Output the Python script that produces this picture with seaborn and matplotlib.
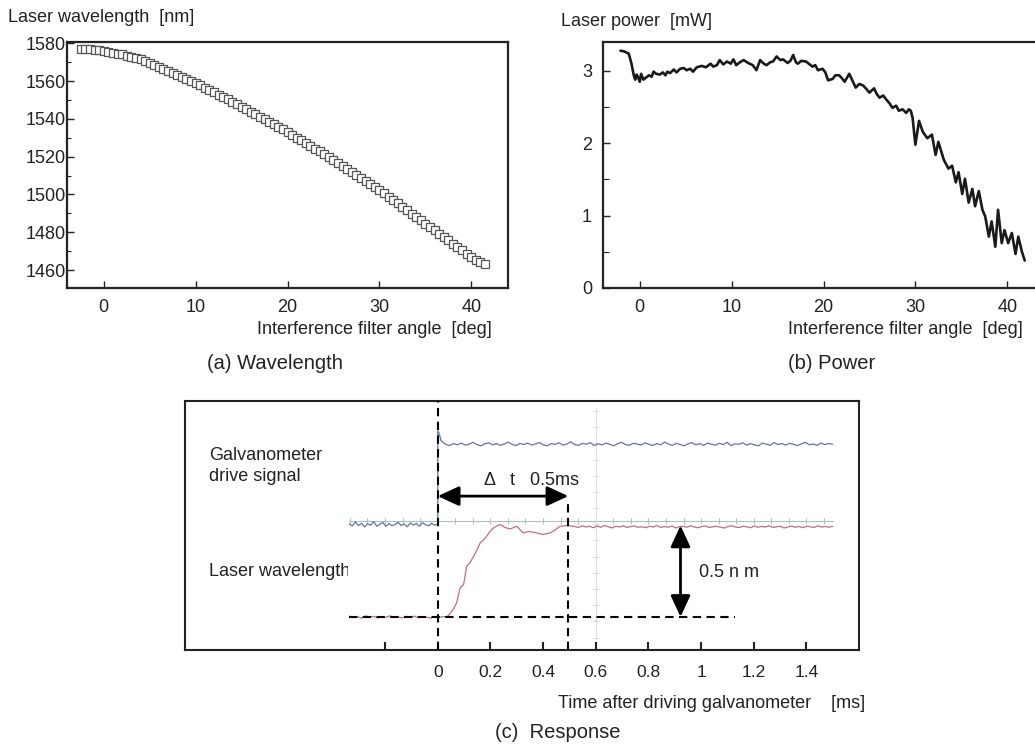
import numpy as np
import matplotlib
matplotlib.use("Agg")
import matplotlib.pyplot as plt
from matplotlib.transforms import Bbox, TransformedBbox
import seaborn as sns

# (a) longitud de onda vs angulo del filtro
ang_a = [-2.5, -2, -1.5, -1, -0.5, 0, 0.5, 1, 1.5, 2, 2.5, 3, 3.5, 4, 4.5, 5,
         5.5, 6, 6.5, 7, 7.5, 8, 8.5, 9, 9.5, 10, 10.5, 11, 11.5, 12, 12.5, 13,
         13.5, 14, 14.5, 15, 15.5, 16, 16.5, 17, 17.5, 18, 18.5, 19, 19.5, 20,
         20.5, 21, 21.5, 22, 22.5, 23, 23.5, 24, 24.5, 25, 25.5, 26, 26.5, 27,
         27.5, 28, 28.5, 29, 29.5, 30, 30.5, 31, 31.5, 32, 32.5, 33, 33.5, 34,
         34.5, 35, 35.5, 36, 36.5, 37, 37.5, 38, 38.5, 39, 39.5, 40, 40.5, 41, 41.5]
wavelength = [1577.0, 1576.9, 1576.8, 1576.6, 1576.3, 1576.0, 1575.6, 1575.1, 1574.6,
              1574.1, 1573.5, 1572.9, 1572.3, 1571.6, 1570.6, 1569.5, 1568.5, 1567.5,
              1566.5, 1565.5, 1564.5, 1563.4, 1562.3, 1561.2, 1560.1, 1559.0, 1557.8,
              1556.6, 1555.4, 1554.1, 1552.9, 1551.6, 1550.4, 1549.1, 1547.8, 1546.5,
              1545.2, 1543.8, 1542.5, 1541.1, 1539.8, 1538.4, 1537.1, 1535.7, 1534.4,
              1533.0, 1531.6, 1530.1, 1528.7, 1527.2, 1525.8, 1524.3, 1522.9, 1521.4,
              1520.0, 1518.5, 1516.9, 1515.3, 1513.7, 1512.1, 1510.5, 1508.9, 1507.3,
              1505.7, 1504.1, 1502.5, 1500.7, 1498.9, 1497.1, 1495.3, 1493.5, 1491.7,
              1489.9, 1488.1, 1486.3, 1484.5, 1482.7, 1481.0, 1479.2, 1477.5, 1475.7,
              1474.0, 1472.2, 1470.5, 1468.7, 1467.0, 1465.5, 1464.0, 1463.2]

# (b) potencia vs angulo
ang_b = [-2.1, -1.7, -1.2, -0.9, -0.65, -0.5, -0.35, -0.2, 0, 0.15, 0.4, 0.7, 1.0,
         1.3, 1.5, 1.8, 2.2, 2.5, 2.8, 3.0, 3.3, 3.7, 4.0, 4.4, 4.8, 5.1, 5.5, 5.8,
         6.2, 6.75, 7.2, 7.7, 8.0, 8.4, 8.7, 9.1, 9.5, 9.9, 10.2, 10.5, 10.9, 11.3,
         11.8, 12.3, 12.7, 13.1, 13.5, 13.8, 14.2, 14.5, 14.9, 15.3, 15.6, 16.1,
         16.4, 16.7, 17.0, 17.2, 17.6, 18.1, 18.5, 18.8, 19.1, 19.4, 19.9, 20.2,
         20.5, 21, 21.3, 21.7, 22.0, 22.3, 22.8, 23.1, 23.5, 23.9, 24.3, 24.6, 25,
         25.5, 25.8, 26.1, 26.5, 26.8, 27.2, 27.5, 27.9, 28.2, 28.6, 29, 29.3, 29.5,
         29.7, 30,
         30.4, 30.8, 31.3, 31.8, 32.2, 32.5, 33.1, 33.6, 34, 34.4, 34.7, 35.1, 35.4,
         35.8, 36.2, 36.5, 36.9, 37.3, 37.6, 38, 38.3, 38.7, 39, 39.4, 39.7, 40.1,
         40.5, 40.9, 41.2, 41.6, 41.9]
power = [3.28, 3.27, 3.24, 3.10, 2.94, 2.88, 2.95, 2.92, 2.85, 2.96, 2.88, 2.91, 2.94,
         2.92, 2.99, 2.96, 2.95, 2.98, 2.94, 2.99, 2.97, 3.02, 2.98, 3.03, 3.04, 3.01,
         3.03, 2.99, 3.05, 3.07, 3.05, 3.10, 3.06, 3.08, 3.15, 3.09, 3.13, 3.10, 3.16,
         3.08, 3.12, 3.15, 3.11, 3.08, 3.01, 3.15, 3.10, 3.08, 3.12, 3.13, 3.20, 3.15,
         3.16, 3.11, 3.14, 3.22, 3.12, 3.10, 3.14, 3.13, 3.09, 3.06, 3.08, 3.01, 3.03,
         2.98, 2.87, 2.89, 2.94, 2.94, 2.90, 2.85, 2.96, 2.88, 2.77, 2.82, 2.80, 2.76,
         2.70, 2.76, 2.68, 2.63, 2.66, 2.61, 2.55, 2.49, 2.52, 2.45, 2.47, 2.42, 2.47,
         2.45, 2.35, 1.98,
         2.31, 2.16, 2.07, 2.12, 1.84, 2.02, 1.77, 1.65, 1.69, 1.46, 1.60, 1.30, 1.51,
         1.18, 1.37, 1.13, 1.34, 1.08, 0.99, 0.71, 0.92, 0.57, 1.08, 0.62, 0.80, 0.62,
         0.76, 0.47, 0.71, 0.50, 0.38]

# (c) respuesta (osciloscopio, escala vertical arbitraria 0-1)
galvo_low = [0.506, 0.498, 0.514, 0.500, 0.509, 0.494, 0.507, 0.501, 0.516, 0.497,
             0.505, 0.512, 0.496, 0.508, 0.499, 0.504, 0.513, 0.500, 0.506, 0.495,
             0.510, 0.502, 0.508, 0.497, 0.511, 0.503, 0.499, 0.509, 0.501, 0.506]
galvo_step_t = [0.0, 0.0, 0.006, 0.012, 0.02]
galvo_step_v = [0.506, 0.880, 0.868, 0.842, 0.834]
galvo_high = [0.826, 0.821, 0.829, 0.824, 0.831, 0.823, 0.827, 0.834, 0.825, 0.820,
              0.828, 0.832, 0.824, 0.829, 0.822, 0.827, 0.835, 0.826, 0.821, 0.830,
              0.825, 0.831, 0.823, 0.828, 0.833, 0.824, 0.820, 0.829, 0.826, 0.832,
              0.823, 0.827, 0.836, 0.825, 0.822, 0.830, 0.826, 0.833, 0.821, 0.828,
              0.824, 0.831, 0.826, 0.820, 0.829, 0.834, 0.825, 0.822, 0.830, 0.827,
              0.823, 0.832, 0.826, 0.821, 0.829, 0.824, 0.835, 0.827, 0.822, 0.830,
              0.825, 0.820, 0.828, 0.833, 0.824, 0.829, 0.822, 0.831, 0.826, 0.823,
              0.830, 0.825, 0.834, 0.821, 0.828, 0.826, 0.832, 0.823, 0.829, 0.824,
              0.820, 0.831, 0.827, 0.822, 0.833, 0.825, 0.829, 0.823, 0.830, 0.826,
              0.821, 0.828, 0.834, 0.824, 0.827, 0.822, 0.831, 0.825, 0.829, 0.826]
laser_low = [0.136, 0.130, 0.134, 0.128, 0.137, 0.132, 0.135, 0.129, 0.134, 0.131,
             0.137, 0.132, 0.133, 0.129, 0.135, 0.131, 0.136, 0.130, 0.134, 0.132,
             0.128, 0.135, 0.131, 0.134, 0.133]
rise_t = [0.05, 0.062, 0.072, 0.085, 0.098, 0.11, 0.122, 0.136, 0.148, 0.161, 0.174,
          0.186, 0.198, 0.211, 0.224, 0.237, 0.255, 0.275, 0.3, 0.325, 0.345, 0.363,
          0.385, 0.401, 0.427, 0.445, 0.465, 0.496]
rise_v = [0.15, 0.17, 0.19, 0.25, 0.262, 0.336, 0.35, 0.376, 0.40, 0.43, 0.442, 0.457,
          0.475, 0.49, 0.498, 0.504, 0.492, 0.486, 0.497, 0.47, 0.476, 0.473, 0.468,
          0.464, 0.47, 0.482, 0.497, 0.50]
laser_high = [0.496, 0.492, 0.499, 0.494, 0.497, 0.491, 0.498, 0.493, 0.500, 0.495,
              0.490, 0.497, 0.494, 0.499, 0.492, 0.496, 0.498, 0.493, 0.495, 0.491,
              0.497, 0.494, 0.500, 0.492, 0.496, 0.493, 0.498, 0.490, 0.495, 0.497,
              0.493, 0.499, 0.494, 0.491, 0.496, 0.498, 0.492, 0.495, 0.497, 0.493,
              0.490, 0.496, 0.499, 0.494, 0.492, 0.497, 0.495, 0.491, 0.498, 0.493,
              0.496, 0.494, 0.499, 0.492, 0.495, 0.497, 0.490, 0.494, 0.498, 0.493,
              0.496, 0.491, 0.497, 0.495, 0.492, 0.499, 0.494, 0.496, 0.493, 0.497]

c_ticks = [-0.2, 0, 0.2, 0.4, 0.6, 0.8, 1.0, 1.2, 1.4]
c_labels = ["", "0", "0.2", "0.4", "0.6", "0.8", "1", "1.2", "1.4"]

# estilo
sns.set_theme(style="ticks")
plt.rcParams["font.family"] = ["Liberation Sans", "DejaVu Sans"]
plt.rcParams["text.color"] = "#222222"
plt.rcParams["xtick.color"] = "#222222"
plt.rcParams["ytick.color"] = "#222222"

W, H = 1035, 748
fig = plt.figure(figsize=(W / 100, H / 100), dpi=100)


def px_axes(x0, y0, x1, y1):
    return fig.add_axes([x0 / W, 1 - y1 / H, (x1 - x0) / W, (y1 - y0) / H])


def box_style(ax, lw=1.6):
    for s in ax.spines.values():
        s.set_visible(True)
        s.set_linewidth(lw)
        s.set_color("#222222")


# (a) Wavelength
ax_a = px_axes(67, 42, 508, 288)
sns.scatterplot(x=ang_a, y=wavelength, marker="s", s=40, color="white",
                edgecolor="#555555", linewidth=0.9, ax=ax_a, zorder=3)
ax_a.set_xlim(-4, 44)
ax_a.set_ylim(1450.5, 1580.7)
ax_a.set_xticks([0, 10, 20, 30, 40])
ax_a.set_yticks([1460, 1480, 1500, 1520, 1540, 1560, 1580])
ax_a.set_yticks([1470, 1490, 1510, 1530, 1550, 1570], minor=True)
box_style(ax_a)
ax_a.tick_params(axis="both", direction="in", labelsize=13, width=1, length=5)
ax_a.tick_params(axis="x", pad=8)
ax_a.tick_params(axis="y", pad=1)
ax_a.tick_params(axis="y", which="minor", direction="in", length=3, width=0.8)

# (b) Power
ax_b = px_axes(603, 42, 1044, 288)
sns.lineplot(x=ang_b, y=power, color="#1a1a1a", linewidth=1.9, sort=False,
             estimator=None, ax=ax_b)
ax_b.set_xlim(-4, 44)
ax_b.set_ylim(0, 3.4)
ax_b.set_xticks([0, 10, 20, 30, 40])
ax_b.set_yticks([0, 1, 2, 3])
ax_b.set_yticks([0.5, 1.5, 2.5], minor=True)
box_style(ax_b)
ax_b.tick_params(axis="both", direction="in", labelsize=13, width=1, length=5)
ax_b.tick_params(axis="x", pad=8)
ax_b.tick_params(axis="y", pad=8)
ax_b.tick_params(axis="y", which="minor", direction="in", length=4, width=0.8)

# etiquetas de ejes y subtitulos
fig.text(8 / W, 1 - 17 / H, "Laser wavelength  [nm]", fontsize=13, ha="left", va="center")
fig.text(561 / W, 1 - 22 / H, "Laser power  [mW]", fontsize=13, ha="left", va="center")
fig.text(492 / W, 1 - 330 / H, "Interference filter angle  [deg]", fontsize=13,
         ha="right", va="center")
fig.text(1023 / W, 1 - 329 / H, "Interference filter angle  [deg]", fontsize=13,
         ha="right", va="center")
fig.text(207 / W, 1 - 363 / H, "(a) Wavelength", fontsize=14.5, ha="left", va="center")
fig.text(788 / W, 1 - 363 / H, "(b) Power", fontsize=14.5, ha="left", va="center")

# (c) Response
ax_c = px_axes(185, 401, 859, 650)
ax_c.set_xlim(-0.96, 1.60)
ax_c.set_ylim(0, 1)

# reticula del osciloscopio
grat_x = np.arange(0.6 - 14 * 0.0667, 1.51, 0.0667)
ax_c.plot([-0.336, 1.5], [0.517, 0.517], color="#a8c4b6", lw=0.8, zorder=1)
ax_c.plot(grat_x, np.full(len(grat_x), 0.517), ls="none", marker="|", ms=5,
          mew=0.7, color="#a8c4b6", zorder=1)
grat_y = np.arange(0.05, 0.97, 0.065)
ax_c.plot([0.6, 0.6], [0.04, 0.97], color="#dde1dd", lw=0.8, zorder=1)
ax_c.plot(np.full(len(grat_y), 0.6), grat_y, ls="none", marker="_", ms=5,
          mew=0.7, color="#d5dad5", zorder=1)

# trazas
t_gl = np.linspace(-0.336, 0.0, len(galvo_low))
t_gh = np.linspace(0.03, 1.5, len(galvo_high))
g_t = np.concatenate([t_gl, galvo_step_t, t_gh])
g_v = np.concatenate([galvo_low, galvo_step_v, galvo_high])
sns.lineplot(x=g_t, y=g_v, color="#6474a6", linewidth=0.9, sort=False,
             estimator=None, ax=ax_c, zorder=2)

t_ll = np.linspace(-0.336, 0.035, len(laser_low))
t_lh = np.linspace(0.52, 1.5, len(laser_high))
l_t = np.concatenate([t_ll, rise_t, t_lh])
l_v = np.concatenate([laser_low, rise_v, laser_high])
sns.lineplot(x=l_t, y=l_v, color="#c76b7c", linewidth=0.9, sort=False,
             estimator=None, ax=ax_c, zorder=2)

# lineas discontinuas
dash = (0, (4, 2.6))
ax_c.plot([0, 0], [0, 1], color="black", lw=1.5, ls=dash, zorder=4)
ax_c.plot([0.496, 0.496], [0, 0.593], color="black", lw=1.5, ls=dash, zorder=4)
ax_c.plot([-0.336, 1.13], [0.133, 0.133], color="black", lw=1.5, ls=dash, zorder=4)

# flechas
ax_c.annotate("", xy=(0.496, 0.618), xytext=(0.0, 0.618),
              arrowprops=dict(arrowstyle="<|-|>,head_length=0.65,head_width=0.3",
                              mutation_scale=20, lw=2, color="black",
                              shrinkA=0, shrinkB=0), zorder=5)
ax_c.annotate("", xy=(0.922, 0.133), xytext=(0.922, 0.50),
              arrowprops=dict(arrowstyle="<|-|>,head_length=0.65,head_width=0.3",
                              mutation_scale=20, lw=2, color="black",
                              shrinkA=0, shrinkB=0), zorder=5)

ax_c.text(0.177, 0.68, "Δ   t   0.5ms", fontsize=13, ha="left", va="center")
ax_c.text(0.992, 0.31, "0.5 n m", fontsize=13, ha="left", va="center")
ax_c.text(-0.868, 0.782, "Galvanometer", fontsize=13, ha="left", va="center")
ax_c.text(-0.868, 0.698, "drive signal", fontsize=13, ha="left", va="center")
lw_txt = ax_c.text(-0.868, 0.315, "Laser wavelength", fontsize=13, ha="left",
                   va="center")
lw_txt.set_clip_box(TransformedBbox(Bbox([[-0.96, 0], [-0.34, 1]]), ax_c.transData))
lw_txt.set_clip_on(True)

ax_c.set_xticks(c_ticks)
ax_c.set_xticklabels(c_labels)
ax_c.set_yticks([])
box_style(ax_c, lw=1.5)
ax_c.tick_params(axis="x", direction="in", labelsize=12.5, width=1.5, length=6, pad=11)

fig.text(558 / W, 1 - 703 / H, "Time after driving galvanometer    [ms]", fontsize=13,
         ha="left", va="center")
fig.text(495 / W, 1 - 733 / H, "(c)  Response", fontsize=14.5, ha="left", va="center")

fig.savefig("out.png", dpi=100, facecolor="white")
